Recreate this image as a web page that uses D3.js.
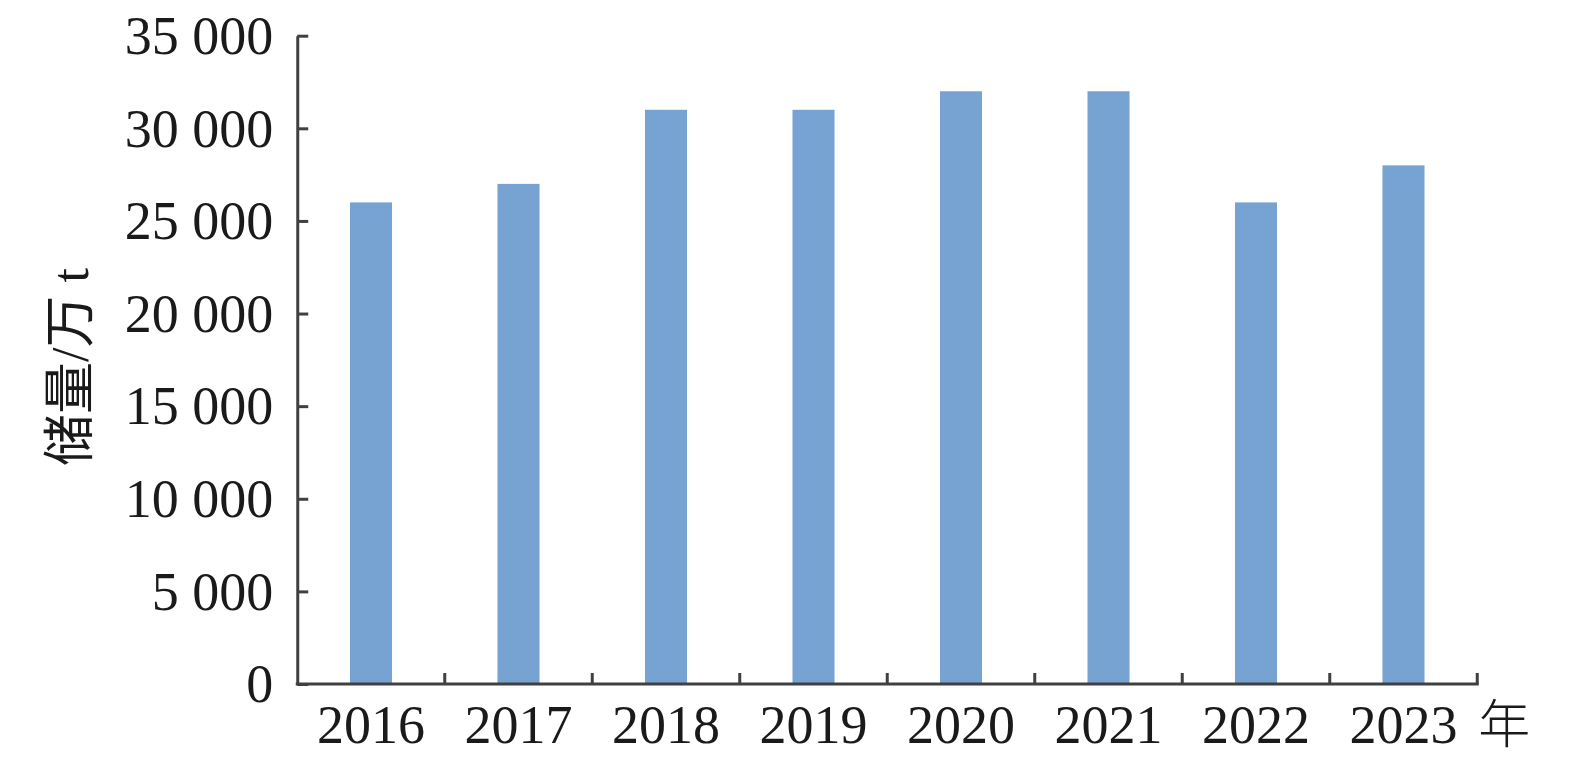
<!DOCTYPE html>
<html>
<head>
<meta charset="utf-8">
<script src="https://cdn.jsdelivr.net/npm/d3@7"></script>
<style>
  html, body { margin: 0; padding: 0; background: #fff; }
  svg { display: block; }
  text { font-family: "Liberation Serif", "Times New Roman", "Noto Sans CJK SC", serif; fill: #1a1a1a; }
</style>
</head>
<body>
<svg id="chart" width="1575" height="768"></svg>
<script>
const categories = ["2016", "2017", "2018", "2019", "2020", "2021", "2022", "2023"];
const values = [26000, 27000, 31000, 31000, 32000, 32000, 26000, 28000];
const yTicks = [0, 5000, 10000, 15000, 20000, 25000, 30000, 35000];
const yLabel = "储量/万 t";
const xUnit = "年";

const svg = d3.select("#chart");
const mLeft = 297.25, mRight = 1477.25, mTop = 35.7, mBottom = 684;
const axisColor = "#404040";

const x = d3.scaleBand().domain(categories).range([mLeft, mRight]).padding(0);
const y = d3.scaleLinear().domain([0, 35000]).range([mBottom, mTop]);
const barW = x.bandwidth() * 0.285;

const fmt = v => v >= 1000 ? d3.format(",")(v).replace(/,/g, " ") : String(v);

// bars
svg.append("g").selectAll("rect").data(values).join("rect")
  .attr("x", (d, i) => x(categories[i]) + x.bandwidth() / 2 - barW / 2)
  .attr("y", d => y(d))
  .attr("width", barW)
  .attr("height", d => y(0) - y(d))
  .attr("fill", "#77A3D3");

// y axis
const yAxis = svg.append("g").attr("transform", `translate(${mLeft},0)`)
  .call(d3.axisLeft(y).tickValues(yTicks).tickFormat(fmt).tickSizeInner(-11).tickSizeOuter(0).tickPadding(24));
yAxis.select(".domain").attr("stroke", axisColor).attr("stroke-width", 3);
yAxis.selectAll(".tick line").attr("stroke", axisColor).attr("stroke-width", 3);
yAxis.selectAll(".tick text").attr("font-size", 54).attr("fill", "#1a1a1a")
  .attr("font-family", "Liberation Serif, serif").attr("dy", "0.33em")
  .attr("x", -24);

// x axis: ticks at band boundaries pointing upward
const xAxis = svg.append("g").attr("transform", `translate(0,${mBottom})`)
  .call(d3.axisBottom(x).tickSize(0).tickPadding(0));
xAxis.select(".domain").attr("stroke", axisColor).attr("stroke-width", 3)
  .attr("d", `M${mLeft - 1.5},0H${mRight + 1.5}`);
xAxis.selectAll(".tick text").attr("font-size", 54).attr("fill", "#1a1a1a")
  .attr("font-family", "Liberation Serif, serif").attr("y", 59).attr("dy", 0);
const boundaries = categories.map(c => x(c) + x.bandwidth());
svg.append("g").selectAll("line").data(boundaries).join("line")
  .attr("x1", d => d).attr("x2", d => d)
  .attr("y1", mBottom).attr("y2", mBottom - 11)
  .attr("stroke", axisColor).attr("stroke-width", 3);

// unit
svg.append("text").attr("x", mRight + 1).attr("y", 743)
  .attr("font-size", 52).attr("font-family", "Noto Sans CJK SC, sans-serif")
  .attr("font-weight", 300).text(xUnit);

// y label
svg.append("text")
  .attr("transform", `translate(88,367) rotate(-90)`)
  .attr("text-anchor", "middle")
  .attr("font-size", 52)
  .attr("font-family", "Liberation Serif, Noto Sans CJK SC, serif")
  .text(yLabel);
</script>
</body>
</html>
